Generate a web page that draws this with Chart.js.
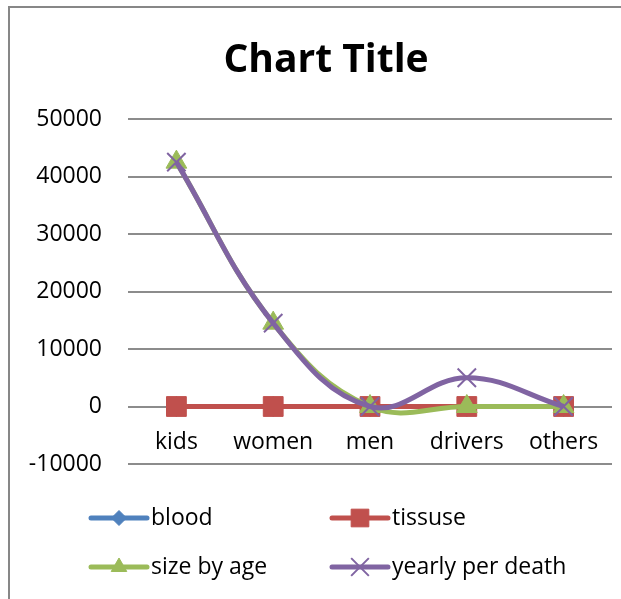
<!DOCTYPE html>
<html>
<head>
<meta charset="utf-8">
<title>Chart Title</title>
<script src="https://cdn.jsdelivr.net/npm/chart.js@4"></script>
<style>
    body { margin: 0; background: #fff; }
    canvas { display: block; }
</style>
</head>
<body>
<canvas id="line-chart" width="621" height="599"></canvas>
<script>
"use strict";

// data
const categories = ["kids", "women", "men", "drivers", "others"];
const blood = [0, 0, 0, 0, 0];
const tissuse = [0, 0, 0, 0, 0];
const sizeByAge = [42500, 14500, 0, 0, 0];
const yearlyPerDeath = [42500, 14500, 0, 5000, 0];

const yMin = -10000;
const yMax = 50000;
const yStep = 10000;

const chartTitle = "Chart Title";
const font = "'Open Sans', sans-serif";

// series styles, excel 2007 colours
const series = [
    { label: "blood", data: blood, color: "#4F81BD", style: "rectRot", radius: 10, legendRadius: 7.5, border: 1, order: 4 },
    { label: "tissuse", data: tissuse, color: "#C0504D", style: "rect", radius: 14, legendRadius: 12.5, border: 1, order: 3 },
    { label: "size by age", data: sizeByAge, color: "#9BBB59", style: "triangle", radius: 12, legendRadius: 9, border: 1, order: 2 },
    { label: "yearly per death", data: yearlyPerDeath, color: "#8064A2", style: "crossRot", radius: 13, legendRadius: 12.5, border: 2, order: 1 }
];

// grey frame round the chart and the title
const framePlugin = {
    id: "frame",
    beforeDraw(chart) {
        const ctx = chart.ctx;
        ctx.save();
        ctx.fillStyle = "#fff";
        ctx.fillRect(0, 0, chart.width, chart.height);
        ctx.strokeStyle = "#878787";
        ctx.lineWidth = 2;
        ctx.beginPath();
        ctx.moveTo(9, chart.height);
        ctx.lineTo(9, 7);
        ctx.lineTo(chart.width, 7);
        ctx.stroke();

        // title sits a bit right of the centre like in excel
        ctx.fillStyle = "#000";
        ctx.font = "bold 39px " + font;
        ctx.textAlign = "center";
        ctx.textBaseline = "alphabetic";
        ctx.fillText(chartTitle, 326, 71.5);
        ctx.restore();
    }
};

// legend in two columns, line with marker like excel
const legendPlugin = {
    id: "excelLegend",
    afterDraw(chart) {
        const ctx = chart.ctx;
        const colX = [91, 332];
        const rowY = [518, 567];
        ctx.save();
        series.forEach((s, i) => {
            const x = colX[i % 2];
            const y = rowY[Math.floor(i / 2)];
            ctx.strokeStyle = s.color;
            ctx.lineWidth = 5;
            ctx.lineCap = "round";
            ctx.beginPath();
            ctx.moveTo(x, y);
            ctx.lineTo(x + 56, y);
            ctx.stroke();

            ctx.fillStyle = s.color;
            ctx.lineWidth = s.border;
            ctx.lineCap = "butt";
            Chart.helpers.drawPoint(ctx, { pointStyle: s.style, radius: s.legendRadius, rotation: 0, borderWidth: s.border }, x + 28, y);

            ctx.fillStyle = "#000";
            ctx.font = "23px " + font;
            ctx.textBaseline = "middle";
            ctx.textAlign = "left";
            ctx.fillText(s.label, x + 60, y);
        });
        ctx.restore();
    }
};

function drawChart() {
    const canvas = document.getElementById("line-chart");

    const datasets = series.map(s => ({
        label: s.label,
        data: s.data,
        borderColor: s.color,
        backgroundColor: s.color,
        borderWidth: 5,
        tension: 0.4,
        pointStyle: s.style,
        pointRadius: s.radius,
        pointHoverRadius: s.radius,
        pointBorderWidth: s.border,
        order: s.order
    }));

    new Chart(canvas, {
        type: "line",
        data: {
            labels: categories,
            datasets: datasets
        },
        plugins: [framePlugin, legendPlugin],
        options: {
            responsive: false,
            animation: false,
            layout: {
                // no extra room for the big markers, plot box is fixed
                autoPadding: false,
                padding: { left: 9, right: 9, top: 119, bottom: 135 }
            },
            plugins: {
                legend: { display: false },
                tooltip: { enabled: false },
                title: { display: false }
            },
            scales: {
                x: {
                    position: { y: 0 },
                    offset: true,
                    afterFit(scale) {
                        scale.paddingLeft = 0;
                        scale.paddingRight = 0;
                    },
                    grid: { display: false },
                    border: { display: false },
                    ticks: {
                        color: "#000",
                        font: { family: font, size: 23 },
                        padding: 14,
                        maxRotation: 0,
                        autoSkip: false
                    }
                },
                y: {
                    min: yMin,
                    max: yMax,
                    afterFit(scale) {
                        scale.width = 119;
                    },
                    grid: {
                        color: "#8c8c8c",
                        lineWidth: 2,
                        drawTicks: false
                    },
                    border: { display: false },
                    ticks: {
                        stepSize: yStep,
                        color: "#000",
                        font: { family: font, size: 23 },
                        padding: 26,
                        callback: value => String(value)
                    }
                }
            }
        }
    });
}

window.onload = () => {
    drawChart();
};
</script>
</body>
</html>
